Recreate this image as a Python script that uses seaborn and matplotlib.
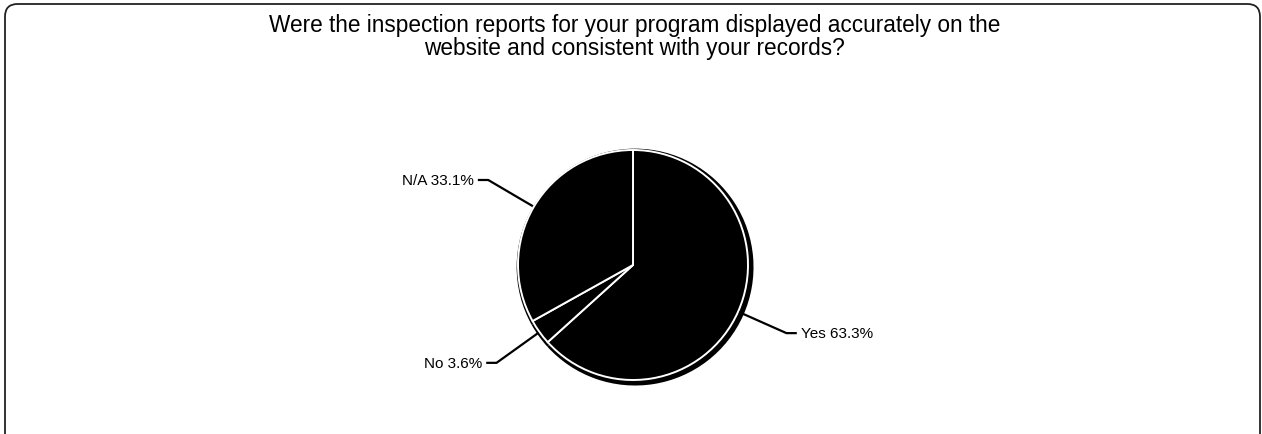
import numpy as np
import matplotlib
matplotlib.use("Agg")
import matplotlib.pyplot as plt
from matplotlib.patches import FancyBboxPatch
import seaborn as sns

# Survey answers, percent of respondents
answers = ["Yes", "No", "N/A"]
shares = [63.3, 3.6, 33.1]
title = ("Were the inspection reports for your program displayed accurately on the\n"
         "website and consistent with your records?")

sns.set_theme(style="white")
plt.rcParams["font.family"] = ["Liberation Sans", "DejaVu Sans"]

W, H, DPI = 1262, 435, 100
fig = plt.figure(figsize=(W / DPI, H / DPI), dpi=DPI)
fig.patch.set_facecolor("white")

# Rounded frame around the chart (open at the bottom edge of the image)
frame = FancyBboxPatch((5 / W, -30 / H), (W - 7) / W, (H + 25) / H,
                       boxstyle="round,pad=0,rounding_size=0.01",
                       transform=fig.transFigure, fill=False,
                       edgecolor="#222222", linewidth=1.3, mutation_aspect=W / H)
fig.patches.append(frame)

# Pie axes: centre at (633, 265) px, radius 116 px
R_PX, CX, CY, HALF = 115, 633, 266, 150
ax = fig.add_axes([(CX - HALF) / W, (H - CY - HALF) / H, 2 * HALF / W, 2 * HALF / H])
lim = HALF / R_PX
ax.set_xlim(-lim, lim)
ax.set_ylim(-lim, lim)
ax.set_aspect("equal")
ax.axis("off")

# Drop shadow under the pie
ax.pie(shares, colors=["black"] * len(shares), startangle=90, counterclock=False,
       radius=1.03, center=(0.018, -0.018), wedgeprops=dict(linewidth=0))
wedges, _ = ax.pie(shares, colors=["black"] * len(shares), startangle=90,
                   counterclock=False, radius=1.0,
                   wedgeprops=dict(edgecolor="white", linewidth=1.4))
ax.set_xlim(-lim, lim)
ax.set_ylim(-lim, lim)

# Leader lines and labels
for w, name, val in zip(wedges, answers, shares):
    mid = np.deg2rad((w.theta1 + w.theta2) / 2)
    c, s = np.cos(mid), np.sin(mid)
    side = 1 if c >= 0 else -1
    p1 = (1.01 * c, 1.01 * s)
    p2 = (1.46 * c, 1.46 * s)
    p3 = (p2[0] + side * 0.09, p2[1])
    ax.plot([p1[0], p2[0], p3[0]], [p1[1], p2[1], p3[1]], color="black",
            linewidth=1.6, clip_on=False, solid_capstyle="butt")
    ax.text(p3[0] + side * 0.035, p3[1], f"{name} {val:.1f}%",
            ha="left" if side > 0 else "right", va="center",
            fontsize=11, color="black", clip_on=False)

fig.text(0.503, 1 - 14 / H, title, ha="center", va="top", fontsize=16.3,
         color="black", linespacing=1.0)

fig.savefig("out.png", dpi=DPI, facecolor="white")
